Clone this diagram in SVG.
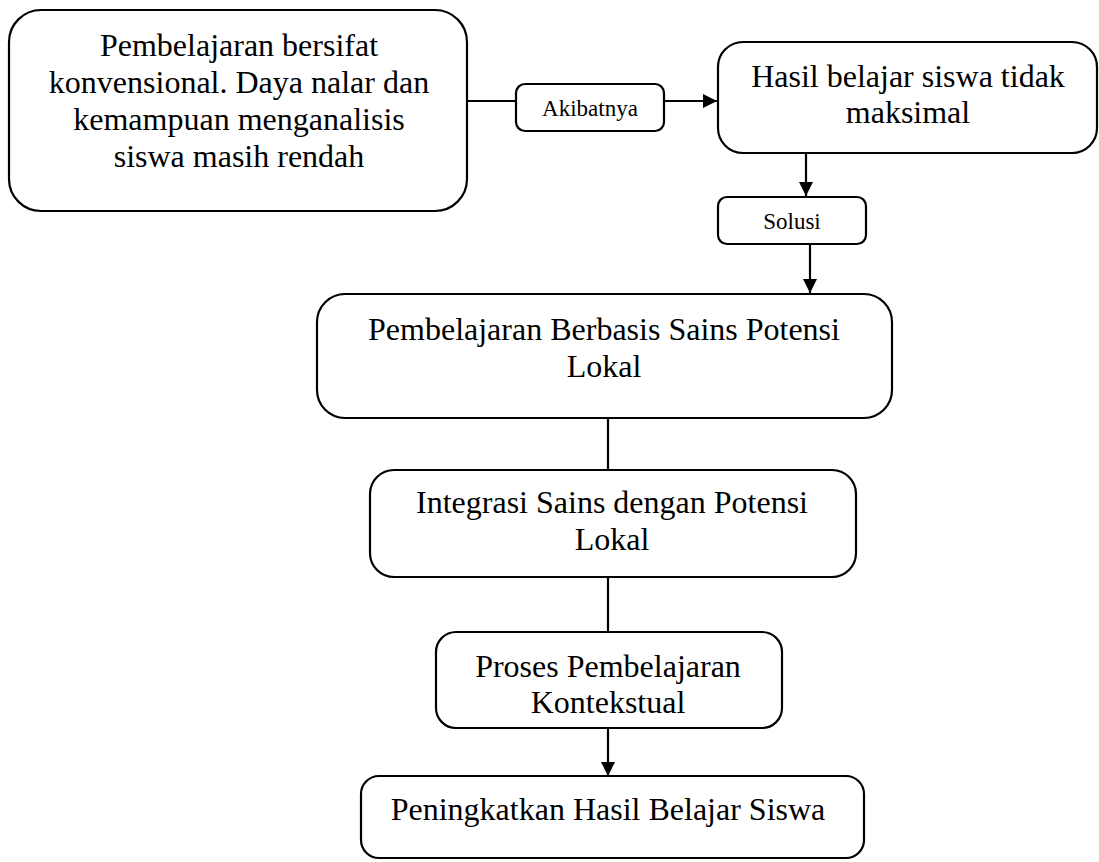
<svg xmlns="http://www.w3.org/2000/svg" width="1099" height="862" viewBox="0 0 1099 862">
<defs>
<marker id="arr" viewBox="0 0 14 14" refX="14" refY="7" markerWidth="14" markerHeight="14" markerUnits="userSpaceOnUse" orient="auto">
<path d="M0,0 L14,7 L0,14 Z" fill="#000"/>
</marker>
<style>
.box{fill:#fff;stroke:#000;stroke-width:2.2}
.t{font-family:"Liberation Serif","Times New Roman",serif;font-size:32px;fill:#000;text-anchor:middle}
.s{font-family:"Liberation Serif","Times New Roman",serif;font-size:23px;fill:#000;text-anchor:middle}
.c{stroke:#000;stroke-width:2.2;fill:none}
</style>
</defs>
<rect width="1099" height="862" fill="#fff"/>
<g id="connectors">
<line class="c" x1="467" y1="101" x2="516" y2="101"/>
<line class="c" x1="664" y1="101" x2="717" y2="101" marker-end="url(#arr)"/>
<line class="c" x1="806" y1="153" x2="806" y2="196" marker-end="url(#arr)"/>
<line class="c" x1="810" y1="244" x2="810" y2="293" marker-end="url(#arr)"/>
<line class="c" x1="608" y1="418" x2="608" y2="470"/>
<line class="c" x1="608" y1="577" x2="608" y2="632"/>
<line class="c" x1="608" y1="728" x2="608" y2="776" marker-end="url(#arr)"/>
</g>
<g id="node1">
<rect class="box" x="9" y="10" width="458" height="201" rx="32"/>
<text class="t" x="239" y="56">Pembelajaran bersifat</text>
<text class="t" x="239" y="93">konvensional. Daya nalar dan</text>
<text class="t" x="239" y="130">kemampuan menganalisis</text>
<text class="t" x="239" y="167">siswa masih rendah</text>
</g>
<g id="akibatnya">
<rect class="box" x="516" y="84" width="148" height="47" rx="9"/>
<text class="s" x="590" y="116">Akibatnya</text>
</g>
<g id="node2">
<rect class="box" x="718" y="42" width="379" height="111" rx="25"/>
<text class="t" x="908" y="87">Hasil belajar siswa tidak</text>
<text class="t" x="908" y="123">maksimal</text>
</g>
<g id="solusi">
<rect class="box" x="718" y="197" width="148" height="47" rx="9"/>
<text class="s" x="792" y="229">Solusi</text>
</g>
<g id="node3">
<rect class="box" x="317" y="294" width="575" height="124" rx="28"/>
<text class="t" x="604" y="340">Pembelajaran Berbasis Sains Potensi</text>
<text class="t" x="604" y="377">Lokal</text>
</g>
<g id="node4">
<rect class="box" x="370" y="470" width="486" height="107" rx="24"/>
<text class="t" x="612" y="513">Integrasi Sains dengan Potensi</text>
<text class="t" x="612" y="550">Lokal</text>
</g>
<g id="node5">
<rect class="box" x="436" y="632" width="346" height="96" rx="20"/>
<text class="t" x="608" y="677">Proses Pembelajaran</text>
<text class="t" x="608" y="713">Kontekstual</text>
</g>
<g id="node6">
<rect class="box" x="361" y="776" width="503" height="82" rx="18"/>
<text class="t" x="608" y="820">Peningkatkan Hasil Belajar Siswa</text>
</g>
</svg>
